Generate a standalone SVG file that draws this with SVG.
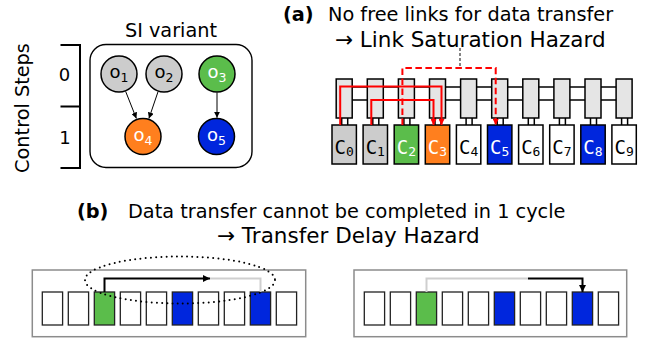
<svg xmlns="http://www.w3.org/2000/svg" width="650" height="343" viewBox="0 0 650 343">
  <style>
    text { font-family: "DejaVu Sans", "Liberation Sans", sans-serif; fill: #000; }
    .t1 { font-size: 19.3px; }
    .t2 { font-size: 21.5px; }
    .bold { font-weight: bold; }
    .opnode { stroke: #000; stroke-width: 1.5; }
    .oplabel { font-size: 18px; text-anchor: middle; }
    .sub { font-size: 12.5px; }
    .white { fill: #fff; }
    .router { fill: #e5e5e5; stroke: #000; stroke-width: 1.5; }
    .core { stroke: #000; stroke-width: 1.5; }
    .clabel { font-family: "DejaVu Sans Mono", "Liberation Mono", monospace; font-size: 19px; text-anchor: middle; }
    .csub { font-size: 13px; }
    .link { stroke: #000; stroke-width: 1.5; fill: none; }
    .red { stroke: #ff0000; stroke-width: 2; fill: none; }
    .pe { stroke: #222; stroke-width: 1.3; }
    .frame { fill: #fff; stroke: #8c8c8c; stroke-width: 1.5; }
    .gray { fill: #cccccc; }
    .green { fill: #5bbd4b; }
    .orange { fill: #ff7f1e; }
    .blue { fill: #0026dd; }
    .empty { fill: #fff; }
  </style>
  <defs>
    <marker id="arrBlack" viewBox="0 0 10 10" refX="10" refY="5" markerWidth="6" markerHeight="6" markerUnits="userSpaceOnUse" orient="auto">
      <path d="M0,0 L10,5 L0,10 z" fill="#000"/>
    </marker>
    <marker id="arrRed" viewBox="0 0 10 10" refX="10" refY="5" markerWidth="7" markerHeight="6" markerUnits="userSpaceOnUse" orient="auto">
      <path d="M0,0 L10,5 L0,10 z" fill="#ff0000"/>
    </marker>
    <marker id="arrBig" viewBox="0 0 10 10" refX="10" refY="5" markerWidth="8" markerHeight="7" markerUnits="userSpaceOnUse" orient="auto">
      <path d="M0,0 L10,5 L0,10 z" fill="#000"/>
    </marker>
  </defs>

  <!-- Control step axis -->
  <g id="control-steps">
    <text class="t1" transform="translate(29,108) rotate(-90)" text-anchor="middle">Control Steps</text>
    <path d="M60.5,45 H80 V168 H60.5 M60.5,106.5 H80" fill="none" stroke="#000" stroke-width="2"/>
    <text x="64.5" y="81" font-size="18" text-anchor="middle">0</text>
    <text x="65" y="144" font-size="18" text-anchor="middle">1</text>
  </g>

  <!-- SI variant dataflow graph -->
  <g id="si-variant">
    <text class="t1" x="171" y="37" text-anchor="middle">SI variant</text>
    <rect x="90" y="44.5" width="162" height="123" rx="16" fill="none" stroke="#000" stroke-width="1.4"/>
  </g>
  <g id="op-edges" fill="none" stroke="#000" stroke-width="1">
    <line x1="125.6" y1="91.3" x2="136.4" y2="118.5" marker-end="url(#arrBlack)"/>
    <line x1="158.1" y1="91.5" x2="148.9" y2="118.5" marker-end="url(#arrBlack)"/>
    <line x1="217" y1="92.5" x2="217" y2="117.8" marker-end="url(#arrBlack)"/>
  </g>
  <g id="o1"><circle class="opnode gray" cx="119" cy="74" r="18"/><text class="oplabel" x="119" y="78">o<tspan class="sub" dy="4">1</tspan></text></g>
  <g id="o2"><circle class="opnode gray" cx="164" cy="74" r="18"/><text class="oplabel" x="164" y="78">o<tspan class="sub" dy="4">2</tspan></text></g>
  <g id="o3"><circle class="opnode green" cx="217" cy="74" r="18"/><text class="oplabel white" x="217" y="78">o<tspan class="sub" dy="4">3</tspan></text></g>
  <g id="o4"><circle class="opnode orange" cx="143" cy="136.5" r="18"/><text class="oplabel white" x="143" y="140.5">o<tspan class="sub" dy="4">4</tspan></text></g>
  <g id="o5"><circle class="opnode blue" cx="216.5" cy="136.5" r="18"/><text class="oplabel white" x="216.5" y="140.5">o<tspan class="sub" dy="4">5</tspan></text></g>

  <!-- (a) heading -->
  <g id="heading-a">
    <text class="t1 bold" x="283" y="21">(a)</text>
    <text class="t1" x="328" y="21">No free links for data transfer</text>
    <text class="t2" x="335" y="47">→ Link Saturation Hazard</text>
    <line x1="460" y1="48" x2="460" y2="67" stroke="#333" stroke-width="1.2" stroke-dasharray="3 2"/>
  </g>

  <!-- (a) router ring links -->
  <g id="mesh-links">
    <line class="link" x1="344" y1="87" x2="624" y2="87"/>
    <line class="link" x1="344" y1="100" x2="624" y2="100"/>
  </g>

  <!-- (a) tiles: router above, core below -->
  <g id="tile-0"><rect class="router" x="336.2" y="79" width="16" height="39"/><path class="link" d="M341.7,118 V125 M347.7,118 V125"/><rect class="core gray" x="332" y="125" width="24.4" height="39"/><text class="clabel" x="344.2" y="154.3">C<tspan class="csub" dy="1.4">0</tspan></text></g>
  <g id="tile-1"><rect class="router" x="367.3" y="79" width="16" height="39"/><path class="link" d="M372.8,118 V125 M378.8,118 V125"/><rect class="core gray" x="363.1" y="125" width="24.4" height="39"/><text class="clabel" x="375.3" y="154.3">C<tspan class="csub" dy="1.4">1</tspan></text></g>
  <g id="tile-2"><rect class="router" x="398.4" y="79" width="16" height="39"/><path class="link" d="M403.9,118 V125 M409.9,118 V125"/><rect class="core green" x="394.2" y="125" width="24.4" height="39"/><text class="clabel white" x="406.4" y="154.3">C<tspan class="csub" dy="1.4">2</tspan></text></g>
  <g id="tile-3"><rect class="router" x="429.5" y="79" width="16" height="39"/><path class="link" d="M435,118 V125 M441,118 V125"/><rect class="core orange" x="425.3" y="125" width="24.4" height="39"/><text class="clabel white" x="437.5" y="154.3">C<tspan class="csub" dy="1.4">3</tspan></text></g>
  <g id="tile-4"><rect class="router" x="460.6" y="79" width="16" height="39"/><path class="link" d="M466.1,118 V125 M472.1,118 V125"/><rect class="core empty" x="456.4" y="125" width="24.4" height="39"/><text class="clabel" x="468.6" y="154.3">C<tspan class="csub" dy="1.4">4</tspan></text></g>
  <g id="tile-5"><rect class="router" x="491.7" y="79" width="16" height="39"/><path class="link" d="M497.2,118 V125 M503.2,118 V125"/><rect class="core blue" x="487.5" y="125" width="24.4" height="39"/><text class="clabel white" x="499.7" y="154.3">C<tspan class="csub" dy="1.4">5</tspan></text></g>
  <g id="tile-6"><rect class="router" x="522.8" y="79" width="16" height="39"/><path class="link" d="M528.3,118 V125 M534.3,118 V125"/><rect class="core empty" x="518.6" y="125" width="24.4" height="39"/><text class="clabel" x="530.8" y="154.3">C<tspan class="csub" dy="1.4">6</tspan></text></g>
  <g id="tile-7"><rect class="router" x="553.9" y="79" width="16" height="39"/><path class="link" d="M559.4,118 V125 M565.4,118 V125"/><rect class="core empty" x="549.7" y="125" width="24.4" height="39"/><text class="clabel" x="561.9" y="154.3">C<tspan class="csub" dy="1.4">7</tspan></text></g>
  <g id="tile-8"><rect class="router" x="585" y="79" width="16" height="39"/><path class="link" d="M590.5,118 V125 M596.5,118 V125"/><rect class="core blue" x="580.8" y="125" width="24.4" height="39"/><text class="clabel white" x="593" y="154.3">C<tspan class="csub" dy="1.4">8</tspan></text></g>
  <g id="tile-9"><rect class="router" x="616.1" y="79" width="16" height="39"/><path class="link" d="M621.6,118 V125 M627.6,118 V125"/><rect class="core empty" x="611.9" y="125" width="24.4" height="39"/><text class="clabel" x="624.1" y="154.3">C<tspan class="csub" dy="1.4">9</tspan></text></g>

  <!-- (a) routed transfers -->
  <g id="transfers-a">
    <path class="red" d="M340.2,125 V86.5 H441.5 V125" marker-end="url(#arrRed)"/>
    <path class="red" d="M371.3,125 V100 H433.5 V125" marker-end="url(#arrRed)"/>
    <path class="red" d="M402.4,125 V68 H495.7 V125" stroke-dasharray="6.5 3.5" marker-end="url(#arrRed)"/>
  </g>

  <!-- (b) heading -->
  <g id="heading-b">
    <text class="t1 bold" x="77" y="218">(b)</text>
    <text class="t1" x="128" y="218">Data transfer cannot be completed in 1 cycle</text>
    <text class="t2" x="217" y="243">→ Transfer Delay Hazard</text>
  </g>

  <!-- (b) left array -->
  <g id="array-left">
    <rect class="frame" x="32.3" y="270" width="273.4" height="66.7"/>
    <rect class="pe empty" x="42.3" y="292" width="20.3" height="33"/>
    <rect class="pe empty" x="68.3" y="292" width="20.3" height="33"/>
    <rect class="pe green" x="94.3" y="292" width="20.3" height="33"/>
    <rect class="pe empty" x="120.3" y="292" width="20.3" height="33"/>
    <rect class="pe empty" x="146.3" y="292" width="20.3" height="33"/>
    <rect class="pe blue" x="172.3" y="292" width="20.3" height="33"/>
    <rect class="pe empty" x="198.3" y="292" width="20.3" height="33"/>
    <rect class="pe empty" x="224.3" y="292" width="20.3" height="33"/>
    <rect class="pe blue" x="250.3" y="292" width="20.3" height="33"/>
    <rect class="pe empty" x="276.3" y="292" width="20.3" height="33"/>
  </g>

  <!-- (b) right array -->
  <g id="array-right">
    <rect class="frame" x="354" y="270" width="272.7" height="66.7"/>
    <rect class="pe empty" x="364.3" y="292" width="20.3" height="33"/>
    <rect class="pe empty" x="390.3" y="292" width="20.3" height="33"/>
    <rect class="pe green" x="416.3" y="292" width="20.3" height="33"/>
    <rect class="pe empty" x="442.3" y="292" width="20.3" height="33"/>
    <rect class="pe empty" x="468.3" y="292" width="20.3" height="33"/>
    <rect class="pe blue" x="494.3" y="292" width="20.3" height="33"/>
    <rect class="pe empty" x="520.3" y="292" width="20.3" height="33"/>
    <rect class="pe empty" x="546.3" y="292" width="20.3" height="33"/>
    <rect class="pe blue" x="572.3" y="292" width="20.3" height="33"/>
    <rect class="pe empty" x="598.3" y="292" width="20.3" height="33"/>
  </g>

  <!-- (b) transfers: travelled part black, remaining part light gray -->
  <g id="transfers-b" fill="none" stroke-width="2">
    <path d="M210,278.5 H260.5 V292" stroke="#cfcfcf"/>
    <path d="M104.5,292 V278.5 H210" stroke="#000" marker-end="url(#arrBig)"/>
    <path d="M426.5,292 V278.5 H528" stroke="#cfcfcf"/>
    <path d="M528,278.5 H582.5 V292" stroke="#000" marker-end="url(#arrBig)"/>
    <ellipse cx="180" cy="280" rx="95" ry="23.5" stroke="#000" stroke-width="2" stroke-linecap="round" stroke-dasharray="0 5.2"/>
  </g>
</svg>
